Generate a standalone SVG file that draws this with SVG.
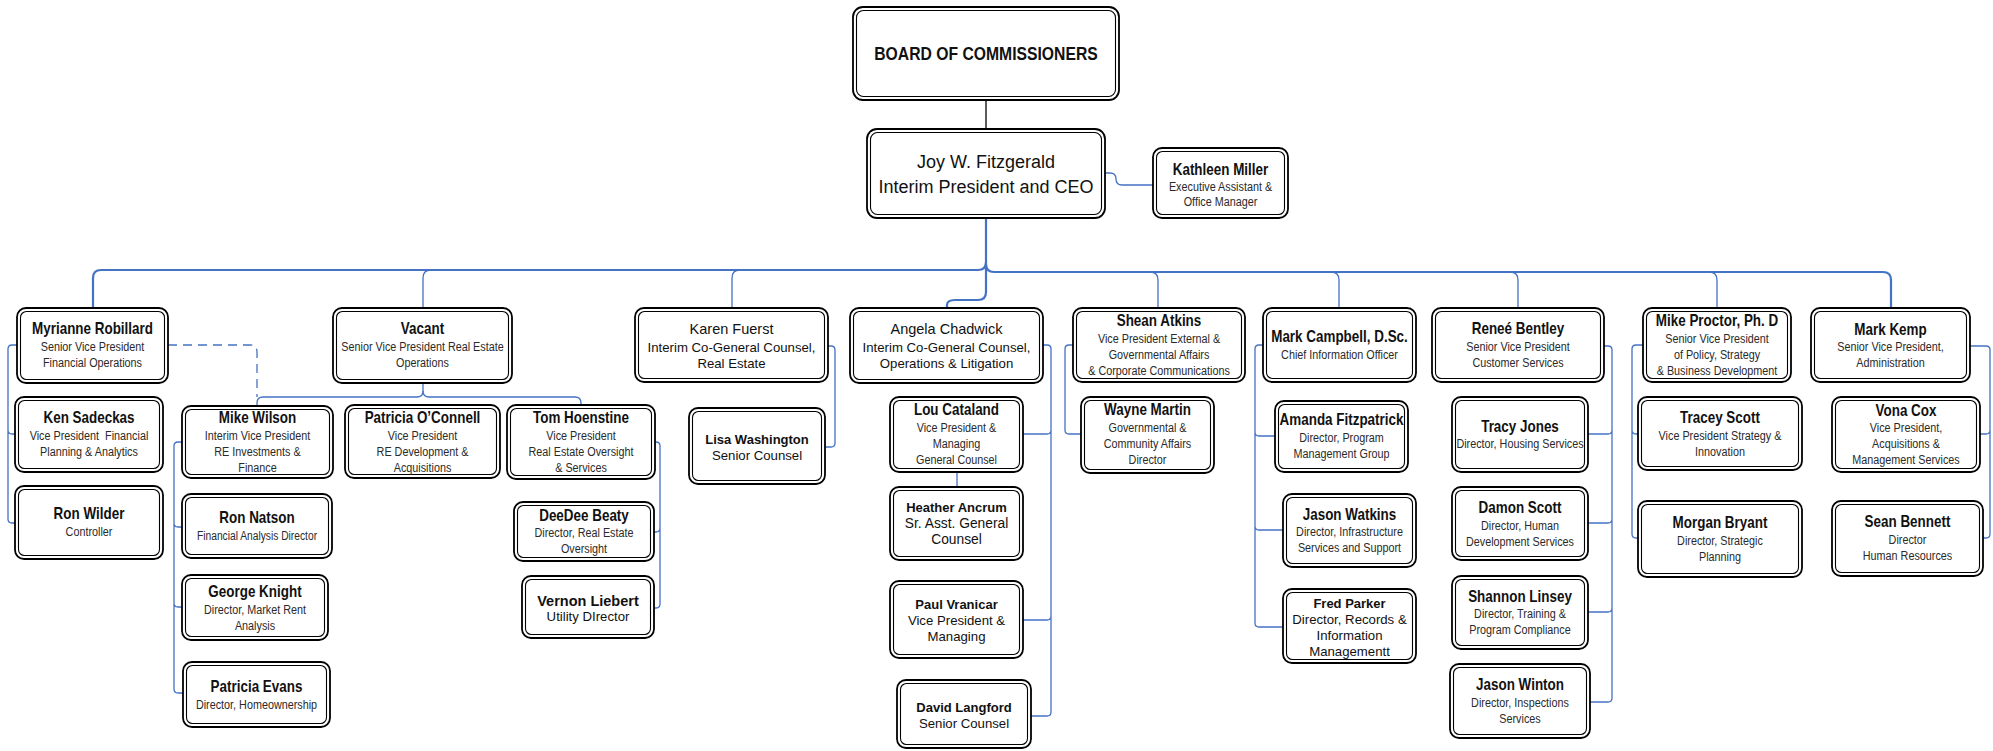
<svg xmlns="http://www.w3.org/2000/svg" width="1993" height="751" viewBox="0 0 1993 751">
<style>
.o{fill:#fff;stroke:#000;stroke-width:1.8}
.i{fill:none;stroke:#000;stroke-width:1.1}
text{text-anchor:middle;dominant-baseline:central}
.nm{font-family:"Liberation Sans",Arial,sans-serif;font-weight:bold;font-size:16px;fill:#111;transform:scale(0.84,1)}
.sb{font-family:"Liberation Sans",Arial,sans-serif;font-size:13.5px;fill:#2a2a2a;transform:scale(0.8,1)}
.rn{font-family:"Liberation Sans",Arial,sans-serif;font-size:14.5px;fill:#111}
.rs{font-family:"Liberation Sans",Arial,sans-serif;font-size:13.2px;fill:#111}
.rb{font-family:"Liberation Sans",Arial,sans-serif;font-weight:bold;font-size:13px;fill:#111}
.big{font-family:"Liberation Sans",Arial,sans-serif;font-size:18px;fill:#111}
.bd{font-family:"Liberation Sans",Arial,sans-serif;font-weight:bold;font-size:18.5px;fill:#111;transform:scale(0.85,1)}
.c{fill:none;stroke:#4472C4;stroke-width:1.3}
.t{stroke-width:2.2}
</style>
<rect width="1993" height="751" fill="#fff"/>
<g id="connectors">
<path d="M986,100 V129" fill="none" stroke="#333" stroke-width="1.6"/>
<path class="c" d="M1105,173 H1110 Q1116,173 1116,179 Q1116,185 1122,185 H1153"/>
<path class="c t" d="M986,218 V292 Q986,300 978,300 H955 Q947,300 947,305 V308"/>
<path class="c t" d="M986,262 Q986,270 978,270 H101 Q93,270 93,278 V308"/>
<path class="c t" d="M986,264 Q986,272 994,272 H1883 Q1891,272 1891,280 V308"/>
<path class="c" d="M431,270 Q423,270 423,278 V308"/>
<path class="c" d="M740,270 Q732,270 732,278 V308"/>
<path class="c" d="M1150,272 Q1158,272 1158,280 V308"/>
<path class="c" d="M1331,272 Q1339,272 1339,280 V308"/>
<path class="c" d="M1510,272 Q1518,272 1518,280 V308"/>
<path class="c" d="M1709,272 Q1717,272 1717,280 V308"/>
<path class="c" d="M168,345 H250 Q257,345 257,352 V397" stroke-dasharray="9,6"/>
<path class="c" d="M423,383 V391 Q423,397 417,397 H263 Q257,397 257,403 V406"/>
<path class="c" d="M423,391 Q423,397 429,397 H575 Q581,397 581,403 V405"/>
<path class="c" d="M17,345 H12 Q8,345 8,349 V519 Q8,523 12,523 H15 M8,430 Q8,434 12,434 H15"/>
<path class="c" d="M182,442 H178 Q174,442 174,446 V689 Q174,693 178,693 H183 M174,523 Q174,527 178,527 H182 M174,603 Q174,607 178,607 H182"/>
<path class="c" d="M655,442 H656 Q660,442 660,446 V604 Q660,608 656,608 H654 M660,528 Q660,532 656,532 H654"/>
<path class="c" d="M828,346 H831 Q835,346 835,350 V443 Q835,447 831,447 H825"/>
<path class="c" d="M1043,345 H1047 Q1051,345 1051,349 V712 Q1051,716 1047,716 H1031 M1051,430 Q1051,434 1047,434 H1023 M1051,616 Q1051,620 1047,620 H1023"/>
<path class="c" d="M957,472 V487"/>
<path class="c" d="M1073,345 H1069 Q1065,345 1065,349 V430 Q1065,434 1069,434 H1081"/>
<path class="c" d="M1263,345 H1259 Q1255,345 1255,349 V623 Q1255,627 1259,627 H1283 M1255,432 Q1255,436 1259,436 H1275 M1255,526 Q1255,530 1259,530 H1283"/>
<path class="c" d="M1604,346 H1608 Q1612,346 1612,350 V698 Q1612,702 1608,702 H1590 M1612,430 Q1612,434 1608,434 H1588 M1612,519 Q1612,523 1608,523 H1588 M1612,608 Q1612,612 1608,612 H1588"/>
<path class="c" d="M1643,345 H1636 Q1632,345 1632,349 V534 Q1632,538 1636,538 H1638 M1632,430 Q1632,434 1636,434 H1638"/>
<path class="c" d="M1970,346 H1986 Q1990,346 1990,350 V534 Q1990,538 1986,538 H1983 M1990,430 Q1990,434 1986,434 H1980"/>
</g>

<g id="board"><rect class="o" x="853" y="7" width="266" height="93" rx="10"/><rect class="i" x="856.5" y="10.5" width="259" height="86" rx="7"/>
<g transform="translate(986,0)"><text class="bd" y="53.5">BOARD OF COMMISSIONERS</text></g></g>

<g id="ceo"><rect class="o" x="867" y="129" width="238" height="89" rx="10"/><rect class="i" x="870.5" y="132.5" width="231" height="82" rx="7"/>
<g transform="translate(986,0)"><text class="big" y="162">Joy W. Fitzgerald</text><text class="big" y="187">Interim President and CEO</text></g></g>

<g id="kathleen"><rect class="o" x="1153" y="148" width="135" height="70" rx="9"/><rect class="i" x="1156.5" y="151.5" width="128" height="63" rx="6"/>
<g transform="translate(1220.5,0)"><text class="nm" y="170">Kathleen Miller</text><text class="sb" y="187">Executive Assistant &amp;</text><text class="sb" y="202">Office Manager</text></g></g>

<g id="myrianne"><rect class="o" x="17" y="308" width="151" height="75" rx="9"/><rect class="i" x="20.5" y="311.5" width="144" height="68" rx="6"/>
<g transform="translate(92.5,0)"><text class="nm" y="328.5">Myrianne Robillard</text><text class="sb" y="346.5">Senior Vice President</text><text class="sb" y="362.5">Financial Operations</text></g></g>

<g id="ken"><rect class="o" x="15" y="397" width="148" height="75" rx="9"/><rect class="i" x="18.5" y="400.5" width="141" height="68" rx="6"/>
<g transform="translate(89,0)"><text class="nm" y="417.5">Ken Sadeckas</text><text class="sb" y="435.5" xml:space="preserve">Vice President  Financial</text><text class="sb" y="451.5">Planning &amp; Analytics</text></g></g>

<g id="ronwilder"><rect class="o" x="15" y="486" width="148" height="73" rx="9"/><rect class="i" x="18.5" y="489.5" width="141" height="66" rx="6"/>
<g transform="translate(89,0)"><text class="nm" y="513.5">Ron Wilder</text><text class="sb" y="531.5">Controller</text></g></g>

<g id="vacant"><rect class="o" x="333" y="308" width="179" height="75" rx="9"/><rect class="i" x="336.5" y="311.5" width="172" height="68" rx="6"/>
<g transform="translate(422.5,0)"><text class="nm" y="328.5">Vacant</text><text class="sb" y="346.5">Senior Vice President Real Estate</text><text class="sb" y="362.5">Operations</text></g></g>

<g id="mikewilson"><rect class="o" x="182" y="406" width="151" height="72" rx="9"/><rect class="i" x="185.5" y="409.5" width="144" height="65" rx="6"/>
<g transform="translate(257.5,0)"><text class="nm" y="417.5">Mike Wilson</text><text class="sb" y="435.5">Interim Vice President</text><text class="sb" y="451.5">RE Investments &amp;</text><text class="sb" y="467.5">Finance</text></g></g>

<g id="ronnatson"><rect class="o" x="182" y="494" width="150" height="64" rx="9"/><rect class="i" x="185.5" y="497.5" width="143" height="57" rx="6"/>
<g transform="translate(257,0)"><text class="nm" y="518">Ron Natson</text><text class="sb" y="536" style="transform:scale(0.76,1)">Financial Analysis Director</text></g></g>

<g id="georgeknight"><rect class="o" x="182" y="575" width="146" height="65" rx="9"/><rect class="i" x="185.5" y="578.5" width="139" height="58" rx="6"/>
<g transform="translate(255,0)"><text class="nm" y="592">George Knight</text><text class="sb" y="610">Director, Market Rent</text><text class="sb" y="626">Analysis</text></g></g>

<g id="patriciaevans"><rect class="o" x="183" y="662" width="147" height="65" rx="9"/><rect class="i" x="186.5" y="665.5" width="140" height="58" rx="6"/>
<g transform="translate(256.5,0)"><text class="nm" y="686.5">Patricia Evans</text><text class="sb" y="704.5">Director, Homeownership</text></g></g>

<g id="patriciaoconnell"><rect class="o" x="345" y="405" width="155" height="73" rx="9"/><rect class="i" x="348.5" y="408.5" width="148" height="66" rx="6"/>
<g transform="translate(422.5,0)"><text class="nm" y="417.5">Patricia O’Connell</text><text class="sb" y="435.5">Vice President</text><text class="sb" y="451.5">RE Development &amp;</text><text class="sb" y="467.5">Acquisitions</text></g></g>

<g id="tomhoenstine"><rect class="o" x="507" y="405" width="148" height="74" rx="9"/><rect class="i" x="510.5" y="408.5" width="141" height="67" rx="6"/>
<g transform="translate(581,0)"><text class="nm" y="417.5">Tom Hoenstine</text><text class="sb" y="435.5">Vice President</text><text class="sb" y="451.5">Real Estate Oversight</text><text class="sb" y="467.5">&amp; Services</text></g></g>

<g id="deedeebeaty"><rect class="o" x="514" y="502" width="140" height="59" rx="9"/><rect class="i" x="517.5" y="505.5" width="133" height="52" rx="6"/>
<g transform="translate(584,0)"><text class="nm" y="515.5">DeeDee Beaty</text><text class="sb" y="533">Director, Real Estate</text><text class="sb" y="549">Oversight</text></g></g>

<g id="vernonliebert"><rect class="o" x="522" y="576" width="132" height="62" rx="9"/><rect class="i" x="525.5" y="579.5" width="125" height="55" rx="6"/>
<g transform="translate(588,0)"><text class="rb" style="font-size:14.5px" y="600.5">Vernon Liebert</text><text class="rs" y="616.5">Utility DIrector</text></g></g>

<g id="karenfuerst"><rect class="o" x="635" y="308" width="193" height="74" rx="9"/><rect class="i" x="638.5" y="311.5" width="186" height="67" rx="6"/>
<g transform="translate(731.5,0)"><text class="rn" y="329">Karen Fuerst</text><text class="rs" y="347">Interim Co-General Counsel,</text><text class="rs" y="363">Real Estate</text></g></g>

<g id="lisawashington"><rect class="o" x="689" y="408" width="136" height="76" rx="9"/><rect class="i" x="692.5" y="411.5" width="129" height="69" rx="6"/>
<g transform="translate(757,0)"><text class="rb" y="439">Lisa Washington</text><text class="rs" y="455">Senior Counsel</text></g></g>

<g id="angelachadwick"><rect class="o" x="850" y="308" width="193" height="75" rx="9"/><rect class="i" x="853.5" y="311.5" width="186" height="68" rx="6"/>
<g transform="translate(946.5,0)"><text class="rn" y="329">Angela Chadwick</text><text class="rs" y="347">Interim Co-General Counsel,</text><text class="rs" y="363">Operations &amp; Litigation</text></g></g>

<g id="loucataland"><rect class="o" x="890" y="397" width="133" height="75" rx="9"/><rect class="i" x="893.5" y="400.5" width="126" height="68" rx="6"/>
<g transform="translate(956.5,0)"><text class="nm" y="410">Lou Cataland</text><text class="sb" y="428">Vice President &amp;</text><text class="sb" y="444">Managing</text><text class="sb" y="460">General Counsel</text></g></g>

<g id="heatherancrum"><rect class="o" x="890" y="487" width="133" height="73" rx="9"/><rect class="i" x="893.5" y="490.5" width="126" height="66" rx="6"/>
<g transform="translate(956.5,0)"><text class="rb" y="507.5">Heather Ancrum</text><text class="rs" style="font-size:13.8px" y="523.5">Sr. Asst. General</text><text class="rs" style="font-size:13.8px" y="539.5">Counsel</text></g></g>

<g id="paulvranicar"><rect class="o" x="890" y="581" width="133" height="77" rx="9"/><rect class="i" x="893.5" y="584.5" width="126" height="70" rx="6"/>
<g transform="translate(956.5,0)"><text class="rb" y="604">Paul Vranicar</text><text class="rs" y="620">Vice President &amp;</text><text class="rs" y="636">Managing</text></g></g>

<g id="davidlangford"><rect class="o" x="897" y="680" width="134" height="68" rx="9"/><rect class="i" x="900.5" y="683.5" width="127" height="61" rx="6"/>
<g transform="translate(964,0)"><text class="rb" y="707">David Langford</text><text class="rs" y="723">Senior Counsel</text></g></g>

<g id="sheanatkins"><rect class="o" x="1073" y="308" width="172" height="74" rx="9"/><rect class="i" x="1076.5" y="311.5" width="165" height="67" rx="6"/>
<g transform="translate(1159,0)"><text class="nm" y="321">Shean Atkins</text><text class="sb" y="339">Vice President External &amp;</text><text class="sb" y="355">Governmental Affairs</text><text class="sb" y="371">&amp; Corporate Communications</text></g></g>

<g id="waynemartin"><rect class="o" x="1081" y="397" width="133" height="76" rx="9"/><rect class="i" x="1084.5" y="400.5" width="126" height="69" rx="6"/>
<g transform="translate(1147.5,0)"><text class="nm" y="410">Wayne Martin</text><text class="sb" y="428">Governmental &amp;</text><text class="sb" y="444">Community Affairs</text><text class="sb" y="460">Director</text></g></g>

<g id="markcampbell"><rect class="o" x="1263" y="308" width="153" height="74" rx="9"/><rect class="i" x="1266.5" y="311.5" width="146" height="67" rx="6"/>
<g transform="translate(1339.5,0)"><text class="nm" y="337">Mark Campbell, D.Sc.</text><text class="sb" y="355">Chief Information Officer</text></g></g>

<g id="amandafitzpatrick"><rect class="o" x="1275" y="401" width="133" height="71" rx="9"/><rect class="i" x="1278.5" y="404.5" width="126" height="64" rx="6"/>
<g transform="translate(1341.5,0)"><text class="nm" y="420">Amanda Fitzpatrick</text><text class="sb" y="437.5">Director, Program</text><text class="sb" y="453.5">Management Group</text></g></g>

<g id="jasonwatkins"><rect class="o" x="1283" y="494" width="133" height="73" rx="9"/><rect class="i" x="1286.5" y="497.5" width="126" height="66" rx="6"/>
<g transform="translate(1349.5,0)"><text class="nm" y="515">Jason Watkins</text><text class="sb" y="532">Director, Infrastructure</text><text class="sb" y="548">Services and Support</text></g></g>

<g id="fredparker"><rect class="o" x="1283" y="589" width="133" height="74" rx="9"/><rect class="i" x="1286.5" y="592.5" width="126" height="67" rx="6"/>
<g transform="translate(1349.5,0)"><text class="rb" y="603">Fred Parker</text><text class="rs" y="619">Director, Records &amp;</text><text class="rs" y="635">Information</text><text class="rs" y="651">Managementt</text></g></g>

<g id="reneebentley"><rect class="o" x="1432" y="308" width="172" height="74" rx="9"/><rect class="i" x="1435.5" y="311.5" width="165" height="67" rx="6"/>
<g transform="translate(1518,0)"><text class="nm" y="329">Reneé Bentley</text><text class="sb" y="347">Senior Vice President</text><text class="sb" y="363">Customer Services</text></g></g>

<g id="tracyjones"><rect class="o" x="1452" y="397" width="136" height="75" rx="9"/><rect class="i" x="1455.5" y="400.5" width="129" height="68" rx="6"/>
<g transform="translate(1520,0)"><text class="nm" y="426.5">Tracy Jones</text><text class="sb" y="444">Director, Housing Services</text></g></g>

<g id="damonscott"><rect class="o" x="1452" y="487" width="136" height="73" rx="9"/><rect class="i" x="1455.5" y="490.5" width="129" height="66" rx="6"/>
<g transform="translate(1520,0)"><text class="nm" y="507.5">Damon Scott</text><text class="sb" y="525.5">Director, Human</text><text class="sb" y="541.5">Development Services</text></g></g>

<g id="shannonlinsey"><rect class="o" x="1452" y="576" width="136" height="73" rx="9"/><rect class="i" x="1455.5" y="579.5" width="129" height="66" rx="6"/>
<g transform="translate(1520,0)"><text class="nm" y="596.5">Shannon Linsey</text><text class="sb" y="614">Director, Training &amp;</text><text class="sb" y="630">Program Compliance</text></g></g>

<g id="jasonwinton"><rect class="o" x="1450" y="664" width="140" height="74" rx="9"/><rect class="i" x="1453.5" y="667.5" width="133" height="67" rx="6"/>
<g transform="translate(1520,0)"><text class="nm" y="685">Jason Winton</text><text class="sb" y="703">Director, Inspections</text><text class="sb" y="719">Services</text></g></g>

<g id="mikeproctor"><rect class="o" x="1643" y="308" width="148" height="74" rx="9"/><rect class="i" x="1646.5" y="311.5" width="141" height="67" rx="6"/>
<g transform="translate(1717,0)"><text class="nm" y="321">Mike Proctor, Ph. D</text><text class="sb" y="339">Senior Vice President</text><text class="sb" y="355">of Policy, Strategy</text><text class="sb" y="371">&amp; Business Development</text></g></g>

<g id="traceyscott"><rect class="o" x="1638" y="397" width="164" height="73" rx="9"/><rect class="i" x="1641.5" y="400.5" width="157" height="66" rx="6"/>
<g transform="translate(1720,0)"><text class="nm" y="417.5">Tracey Scott</text><text class="sb" y="435.5">Vice President Strategy &amp;</text><text class="sb" y="451.5">Innovation</text></g></g>

<g id="morganbryant"><rect class="o" x="1638" y="501" width="164" height="76" rx="9"/><rect class="i" x="1641.5" y="504.5" width="157" height="69" rx="6"/>
<g transform="translate(1720,0)"><text class="nm" y="523">Morgan Bryant</text><text class="sb" y="541">Director, Strategic</text><text class="sb" y="557">Planning</text></g></g>

<g id="markkemp"><rect class="o" x="1811" y="308" width="159" height="74" rx="9"/><rect class="i" x="1814.5" y="311.5" width="152" height="67" rx="6"/>
<g transform="translate(1890.5,0)"><text class="nm" y="329.5">Mark Kemp</text><text class="sb" y="347">Senior Vice President,</text><text class="sb" y="363">Administration</text></g></g>

<g id="vonacox"><rect class="o" x="1832" y="397" width="148" height="75" rx="9"/><rect class="i" x="1835.5" y="400.5" width="141" height="68" rx="6"/>
<g transform="translate(1906,0)"><text class="nm" y="410.5">Vona Cox</text><text class="sb" y="428">Vice President,</text><text class="sb" y="444">Acquisitions &amp;</text><text class="sb" y="460">Management Services</text></g></g>

<g id="seanbennett"><rect class="o" x="1832" y="501" width="151" height="75" rx="9"/><rect class="i" x="1835.5" y="504.5" width="144" height="68" rx="6"/>
<g transform="translate(1907.5,0)"><text class="nm" y="522">Sean Bennett</text><text class="sb" y="540">Director</text><text class="sb" y="556">Human Resources</text></g></g>
</svg>
